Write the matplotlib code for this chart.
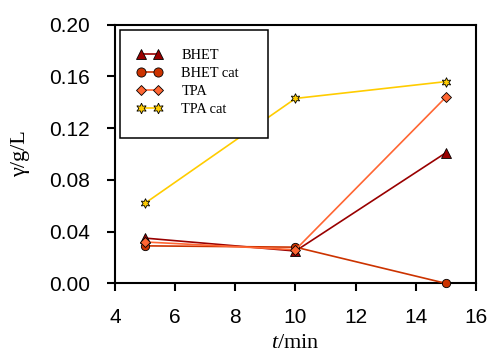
import matplotlib
matplotlib.use("Agg")
import matplotlib.pyplot as plt
from matplotlib.patches import Rectangle

plt.rcParams["mathtext.fontset"] = "custom"
plt.rcParams["mathtext.it"] = "Liberation Serif:italic"
plt.rcParams["mathtext.rm"] = "Liberation Serif"

t = [5, 10, 15]
bhet = [0.035, 0.025, 0.101]
bhet_cat = [0.029, 0.028, 0.0]
tpa = [0.032, 0.026, 0.144]
tpa_cat = [0.062, 0.143, 0.156]

series = [
    ("BHET", bhet, "#990000", "^", 6.5),
    ("BHET cat", bhet_cat, "#CC3300", "o", 6),
    ("TPA", tpa, "#FF6633", "D", 5),
    ("TPA cat", tpa_cat, "#FFCC00", (6, 1, 0), 7),
]

fig = plt.figure(figsize=(4.9, 3.52), dpi=100)
ax = fig.add_axes([0.2347, 0.195, 0.9714 - 0.2347, 0.9298 - 0.195])

for name, vals, col, mk, ms in series:
    ax.plot(t, vals, color=col, lw=1.2, marker=mk, markersize=ms,
            markerfacecolor=col, markeredgecolor="black", markeredgewidth=0.6,
            label=name, clip_on=False, zorder=3)

ax.set_xlim(4, 16)
ax.set_ylim(0, 0.20)
ax.set_xticks([4, 6, 8, 10, 12, 14, 16])
ax.set_yticks([0.00, 0.04, 0.08, 0.12, 0.16, 0.20])
ax.set_yticklabels(["0.00", "0.04", "0.08", "0.12", "0.16", "0.20"])
for s in ax.spines.values():
    s.set_linewidth(1.5)
ax.tick_params(direction="out", length=6, width=1.5, labelsize=15, pad=12)
for lab in ax.get_xticklabels() + ax.get_yticklabels():
    lab.set_fontfamily("Liberation Sans")

ax.set_xlabel("$\\mathit{t}$/min", fontsize=16, family="Liberation Serif", labelpad=5)
ax.set_ylabel("γ/g/L", fontsize=16, family="Liberation Serif", labelpad=14)

rect = Rectangle((0.0139, 0.562), 0.424 - 0.0139, 0.9795 - 0.562, transform=ax.transAxes,
                 fill=True, facecolor="white", edgecolor="black", lw=1.1, zorder=4)
ax.add_patch(rect)
leg = ax.legend(loc="upper left", bbox_to_anchor=(0.06, 0.905), frameon=False,
                numpoints=2, handlelength=1.8, handletextpad=1.3, labelspacing=0.32,
                borderpad=0, borderaxespad=0, markerscale=1.1,
                prop={"family": "Liberation Serif", "size": 10.4})
leg.set_zorder(5)

fig.savefig("out.png", dpi=100)
